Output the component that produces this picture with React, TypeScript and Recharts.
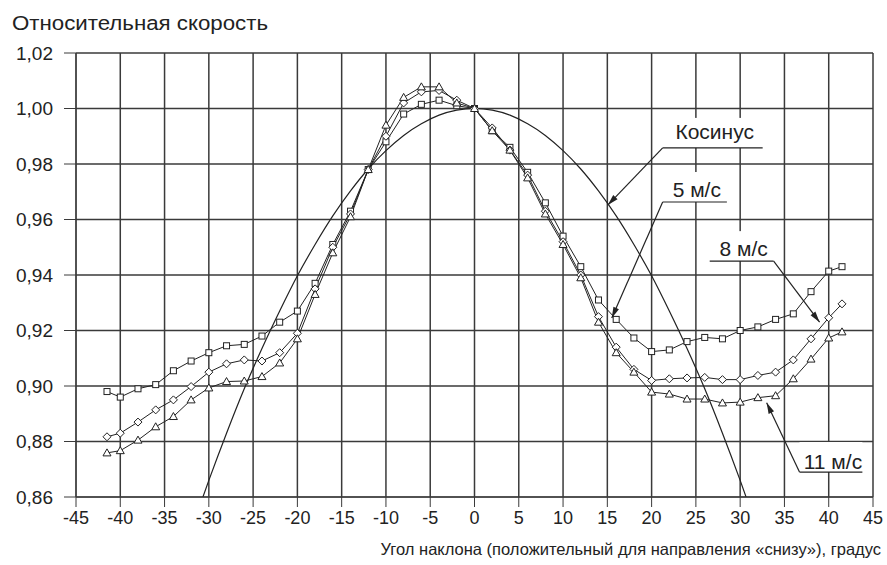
import React from 'react';
import { LineChart, Line, XAxis, YAxis, CartesianGrid, ReferenceLine } from 'recharts';

const angles = [-41.5, -40, -38, -36, -34, -32, -30, -28, -26, -24, -22, -20, -18, -16, -14, -12, -10, -8, -6, -4, -2, 0,
  2, 4, 6, 8, 10, 12, 14, 16, 18, 20, 22, 24, 26, 28, 30, 32, 34, 36, 38, 40, 41.5];

// 5 м/с (squares)
const speed5 = [0.898, 0.896, 0.899, 0.9005, 0.9055, 0.909, 0.912, 0.9145, 0.915, 0.918, 0.923, 0.927, 0.937, 0.951, 0.963,
  0.978, 0.988, 0.998, 1.0015, 1.003, 1.001, 1.0, 0.992, 0.986, 0.977, 0.966, 0.954, 0.943, 0.931, 0.924, 0.9173, 0.9124,
  0.913, 0.916, 0.9175, 0.917, 0.92, 0.9213, 0.924, 0.926, 0.934, 0.9414, 0.943];

// 8 м/с (diamonds)
const speed8 = [0.8817, 0.883, 0.887, 0.8914, 0.895, 0.8998, 0.905, 0.908, 0.9094, 0.909, 0.912, 0.919, 0.935, 0.95, 0.962,
  0.978, 0.99, 1.002, 1.006, 1.0065, 1.003, 1.0, 0.993, 0.985, 0.976, 0.963, 0.952, 0.94, 0.925, 0.914, 0.906, 0.902,
  0.9026, 0.9029, 0.9031, 0.9023, 0.9023, 0.9038, 0.905, 0.9094, 0.917, 0.9246, 0.9296];

// 11 м/с (triangles)
const speed11 = [0.8759, 0.8767, 0.8805, 0.8853, 0.889, 0.895, 0.8993, 0.9016, 0.9018, 0.9034, 0.9083, 0.917, 0.933, 0.948,
  0.961, 0.978, 0.994, 1.004, 1.0078, 1.0078, 1.002, 1.0, 0.992, 0.985, 0.975, 0.962, 0.951, 0.939, 0.923, 0.912, 0.905,
  0.8978, 0.8971, 0.8953, 0.8953, 0.8939, 0.8942, 0.8958, 0.8965, 0.9026, 0.9097, 0.9173, 0.9195];

const cosAngles = [-32, -30, -28, -26, -24, -22, -20, -18, -16, -14, -12, -10, -8, -6, -4, -2, 0,
  2, 4, 6, 8, 10, 12, 14, 16, 18, 20, 22, 24, 26, 28, 30, 32];
const cosValues = [0.848, 0.866, 0.883, 0.899, 0.9135, 0.927, 0.9397, 0.951, 0.9613, 0.9703, 0.9782, 0.9848, 0.9903,
  0.9945, 0.9976, 0.9994, 1.0, 0.9994, 0.9976, 0.9945, 0.9903, 0.9848, 0.9782, 0.9703, 0.9613, 0.951, 0.9397, 0.927,
  0.9135, 0.899, 0.883, 0.866, 0.848];

const xTicks = [-45, -40, -35, -30, -25, -20, -15, -10, -5, 0, 5, 10, 15, 20, 25, 30, 35, 40, 45];
const yTicks = [0.86, 0.88, 0.9, 0.92, 0.94, 0.96, 0.98, 1.0, 1.02];

// callouts: label, underline from/to, leader start, arrow tip
const callouts = [
  { text: 'Косинус', from: [21.25, 0.9858], to: [32.54, 0.9858], start: [21.25, 0.9858], tip: [15.05, 0.9652], lift: 9 },
  { text: '5 м/с', from: [21.25, 0.9663], to: [28.5, 0.9663], start: [21.25, 0.9663], tip: [15.5, 0.9245], lift: 5 },
  { text: '8 м/с', from: [26.56, 0.945], to: [33.78, 0.945], start: [33.78, 0.945], tip: [38.97, 0.923], lift: 5 },
  { text: '11 м/с', from: [36.7, 0.869], to: [43.8, 0.869], start: [36.7, 0.869], tip: [32.99, 0.894], lift: 3 },
];

const FONT = '"Liberation Sans", Arial, sans-serif';
const INK = '#222';
const GRID = '#3a3a3a';

const toRows = (xs: number[], ys: number[]) => xs.map((x, i) => ({ x, y: ys[i] }));
const rows5 = toRows(angles, speed5);
const rows8 = toRows(angles, speed8);
const rows11 = toRows(angles, speed11);
const cosRows = toRows(cosAngles, cosValues);

const SquareDot = (props: any) => {
  const { cx, cy, index } = props;
  if (cx == null || cy == null) return <g key={`s${index}`} />;
  return <rect key={`s${index}`} x={cx - 3} y={cy - 3} width={6} height={6} fill="#fff" stroke={INK} strokeWidth={1} />;
};

const DiamondDot = (props: any) => {
  const { cx, cy, index } = props;
  if (cx == null || cy == null) return <g key={`d${index}`} />;
  return (
    <polygon key={`d${index}`} points={`${cx},${cy - 4} ${cx + 4},${cy} ${cx},${cy + 4} ${cx - 4},${cy}`}
      fill="#fff" stroke={INK} strokeWidth={1} />
  );
};

const TriangleDot = (props: any) => {
  const { cx, cy, index } = props;
  if (cx == null || cy == null) return <g key={`t${index}`} />;
  return (
    <polygon key={`t${index}`} points={`${cx},${cy - 4} ${cx + 4},${cy + 3} ${cx - 4},${cy + 3}`}
      fill="#fff" stroke={INK} strokeWidth={1} />
  );
};

const ArrowLine = (props: any) => {
  const { x1, y1, x2, y2 } = props;
  const a = Math.atan2(y2 - y1, x2 - x1);
  const len = 11, w = 3;
  const bx = x2 - len * Math.cos(a), by = y2 - len * Math.sin(a);
  const px = -Math.sin(a) * w, py = Math.cos(a) * w;
  return (
    <g>
      <line x1={x1} y1={y1} x2={x2} y2={y2} stroke={INK} strokeWidth={1.2} />
      <polygon points={`${x2},${y2} ${bx + px},${by + py} ${bx - px},${by - py}`} fill={INK} />
    </g>
  );
};

const labelLine = (text: string, lift: number) => (props: any) => {
  const { x1, y1, x2 } = props;
  const left = Math.min(x1, x2), right = Math.max(x1, x2);
  return (
    <g>
      <rect x={left} y={y1 - 30} width={right - left} height={30} fill="#fff" />
      <line x1={left} y1={y1} x2={right} y2={y1} stroke={INK} strokeWidth={1.2} />
      <text x={(left + right) / 2 + 2} y={y1 - lift} textAnchor="middle" fontSize={21} fill={INK} fontFamily={FONT}>{text}</text>
    </g>
  );
};

export default function App() {
  return (
    <div style={{ position: 'absolute', left: 0, top: 0, width: 887, height: 565, background: '#fff' }}>
      <LineChart width={887} height={565} margin={{ top: 53, right: 14, left: 0, bottom: 0 }}>
        <CartesianGrid stroke={GRID} strokeWidth={1.5} />
        <XAxis
          type="number"
          dataKey="x"
          domain={[-45, 45]}
          ticks={xTicks}
          interval={0}
          height={68}
          tickSize={10}
          tickMargin={4}
          stroke={GRID}
          tick={{ fill: INK, fontSize: 18, fontFamily: FONT }}
          label={{
            content: () => (
              <text x={881} y={555} textAnchor="end" fontSize={16.5} fill={INK} fontFamily={FONT}>
                Угол наклона (положительный для направления «снизу»), градус
              </text>
            ),
          }}
        />
        <YAxis
          type="number"
          domain={[0.86, 1.02]}
          ticks={yTicks}
          interval={0}
          allowDataOverflow
          width={76}
          tickSize={12}
          tickMargin={11}
          stroke={GRID}
          tickFormatter={(v: number) => v.toFixed(2).replace('.', ',')}
          tick={{ fill: INK, fontSize: 19, fontFamily: FONT }}
          label={{
            content: () => (
              <text x={12} y={30} textAnchor="start" fontSize={20.5} fill={INK} fontFamily={FONT}
                textLength={256} lengthAdjust="spacingAndGlyphs">
                Относительная скорость
              </text>
            ),
          }}
        />
        <Line data={cosRows} dataKey="y" type="monotone" stroke={INK} strokeWidth={1.2} dot={false} isAnimationActive={false} />
        <Line data={rows5} dataKey="y" type="linear" stroke={INK} strokeWidth={1} dot={SquareDot} isAnimationActive={false} />
        <Line data={rows8} dataKey="y" type="linear" stroke={INK} strokeWidth={1} dot={DiamondDot} isAnimationActive={false} />
        <Line data={rows11} dataKey="y" type="linear" stroke={INK} strokeWidth={1} dot={TriangleDot} isAnimationActive={false} />
        {callouts.map((c) => (
          <ReferenceLine key={`l${c.text}`} segment={[{ x: c.from[0], y: c.from[1] }, { x: c.to[0], y: c.to[1] }]}
            shape={labelLine(c.text, c.lift)} />
        ))}
        {callouts.map((c) => (
          <ReferenceLine key={`a${c.text}`} segment={[{ x: c.start[0], y: c.start[1] }, { x: c.tip[0], y: c.tip[1] }]}
            shape={ArrowLine} />
        ))}
      </LineChart>
    </div>
  );
}
